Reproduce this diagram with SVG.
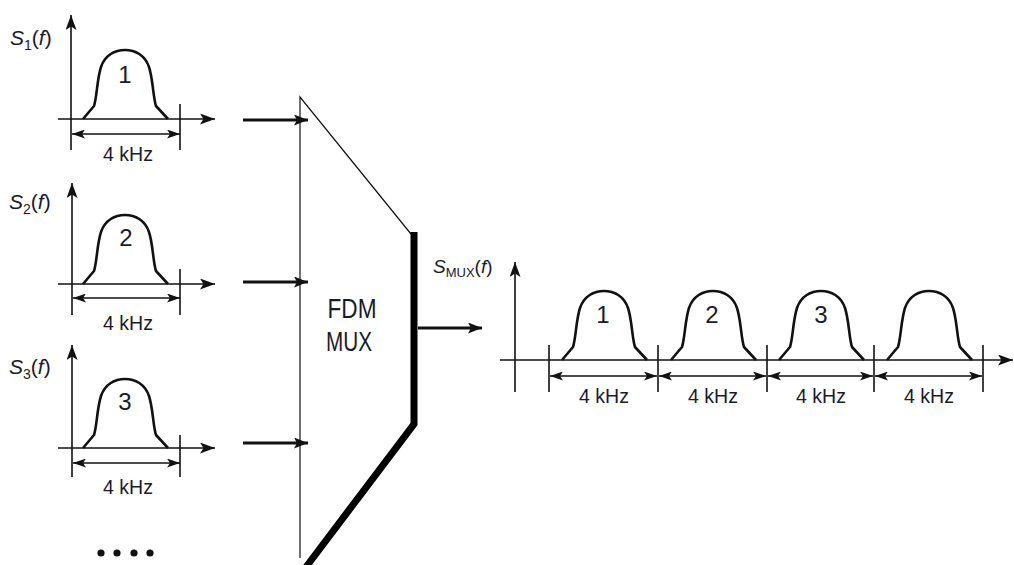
<svg xmlns="http://www.w3.org/2000/svg" xmlns:xlink="http://www.w3.org/1999/xlink" width="1014" height="565" viewBox="0 0 1014 565">
<style>
.ax{stroke:#111;stroke-width:1.6;fill:none}
.pulse{stroke:#111;stroke-width:2.6;fill:none;stroke-linejoin:round}
.dim{stroke:#111;stroke-width:1.6;fill:none}
.thick{stroke:#111;stroke-width:3.2;fill:none}
.t{font-family:"Liberation Sans",Arial,sans-serif;fill:#1a1a2a}
.num{font-size:24px;text-anchor:middle}
.khz{font-size:20px;text-anchor:middle}
.lbl{font-size:21px}
.it{font-style:italic}
</style>
<defs>
<marker id="ah" markerUnits="userSpaceOnUse" markerWidth="15" markerHeight="11" refX="15" refY="5.5" orient="auto-start-reverse">
<path d="M0,0 L15,5.5 L0,11 L3.5,5.5 Z" fill="#111"/>
</marker>
<marker id="dh" markerUnits="userSpaceOnUse" markerWidth="13" markerHeight="9" refX="13" refY="4.5" orient="auto-start-reverse">
<path d="M0,0 L13,4.5 L0,9 L3,4.5 Z" fill="#111"/>
</marker>
<marker id="th" markerUnits="userSpaceOnUse" markerWidth="14" markerHeight="11" refX="14" refY="5.5" orient="auto">
<path d="M0,0 L14,5.5 L0,11 L3,5.5 Z" fill="#111"/>
</marker>
<path id="pulse" class="pulse" d="M0,0 L11,-13 C14,-22 14,-40 18,-52 C22,-64 32,-69 42,-69 C52,-69 62,-64 66,-52 C70,-40 70,-22 73,-13 L85,0"/>
</defs>
<rect width="1014" height="565" fill="#fff"/>

<g id="spectrum1" transform="translate(0,119)">
<line class="ax" x1="71" y1="31" x2="71" y2="-104" marker-end="url(#ah)"/>
<line class="ax" x1="58" y1="0" x2="215" y2="0" marker-end="url(#ah)"/>
<line class="ax" x1="180" y1="-15" x2="180" y2="31"/>
<line class="dim" x1="72" y1="15" x2="180" y2="15" marker-start="url(#dh)" marker-end="url(#dh)"/>
<use xlink:href="#pulse" x="83" y="0"/>
<text class="t num" x="125" y="-36">1</text>
<text class="t khz" x="128" y="42" textLength="50" lengthAdjust="spacingAndGlyphs">4 kHz</text>
<text class="t lbl" x="10" y="-74"><tspan class="it">S</tspan><tspan font-size="14" dy="5">1</tspan><tspan dy="-5">(</tspan><tspan class="it">f</tspan>)</text>
</g>

<g id="spectrum2" transform="translate(0,284)">
<line class="ax" x1="72" y1="31" x2="72" y2="-101" marker-end="url(#ah)"/>
<line class="ax" x1="58" y1="0" x2="215" y2="0" marker-end="url(#ah)"/>
<line class="ax" x1="180" y1="-15" x2="180" y2="31"/>
<line class="dim" x1="73" y1="14" x2="180" y2="14" marker-start="url(#dh)" marker-end="url(#dh)"/>
<use xlink:href="#pulse" x="83" y="0"/>
<text class="t num" x="126" y="-38">2</text>
<text class="t khz" x="128" y="46" textLength="50" lengthAdjust="spacingAndGlyphs">4 kHz</text>
<text class="t lbl" x="9" y="-75"><tspan class="it">S</tspan><tspan font-size="14" dy="5">2</tspan><tspan dy="-5">(</tspan><tspan class="it">f</tspan>)</text>
</g>

<g id="spectrum3" transform="translate(0,448)">
<line class="ax" x1="72" y1="29" x2="72" y2="-103" marker-end="url(#ah)"/>
<line class="ax" x1="58" y1="0" x2="215" y2="0" marker-end="url(#ah)"/>
<line class="ax" x1="180" y1="-13" x2="180" y2="29"/>
<line class="dim" x1="73" y1="15" x2="180" y2="15" marker-start="url(#dh)" marker-end="url(#dh)"/>
<use xlink:href="#pulse" x="83" y="0"/>
<text class="t num" x="125" y="-38">3</text>
<text class="t khz" x="128" y="46" textLength="50" lengthAdjust="spacingAndGlyphs">4 kHz</text>
<text class="t lbl" x="9" y="-74"><tspan class="it">S</tspan><tspan font-size="14" dy="5">3</tspan><tspan dy="-5">(</tspan><tspan class="it">f</tspan>)</text>
</g>

<g id="dots" fill="#111">
<circle cx="101" cy="553" r="3.6"/>
<circle cx="117" cy="553" r="3.6"/>
<circle cx="134" cy="553" r="3.6"/>
<circle cx="150" cy="553" r="3.6"/>
</g>

<g id="mux">
<path d="M411,234 L300,97 L300,558" stroke="#111" stroke-width="1.2" fill="none"/>
<path d="M414,232 L414,424 L306,567" stroke="#000" stroke-width="7" fill="none" stroke-linejoin="miter"/>
<text class="t" font-size="28" x="352" y="318" text-anchor="middle" textLength="49" lengthAdjust="spacingAndGlyphs">FDM</text>
<text class="t" font-size="28" x="349" y="351" text-anchor="middle" textLength="46" lengthAdjust="spacingAndGlyphs">MUX</text>
</g>

<g id="connectors">
<line class="thick" x1="243" y1="120" x2="308" y2="120" marker-end="url(#th)"/>
<line class="thick" x1="243" y1="282" x2="308" y2="282" marker-end="url(#th)"/>
<line class="thick" x1="243" y1="443" x2="308" y2="443" marker-end="url(#th)"/>
<line class="thick" x1="418" y1="328" x2="482" y2="328" marker-end="url(#th)"/>
</g>

<g id="spectrumMux" transform="translate(0,360)">
<line class="ax" x1="515" y1="32" x2="515" y2="-98" marker-end="url(#ah)"/>
<line class="ax" x1="500" y1="0" x2="1013" y2="0" marker-end="url(#ah)"/>
<line class="ax" x1="549" y1="-15" x2="549" y2="32"/>
<line class="ax" x1="658" y1="-15" x2="658" y2="32"/>
<line class="ax" x1="767" y1="-15" x2="767" y2="32"/>
<line class="ax" x1="874" y1="-15" x2="874" y2="32"/>
<line class="ax" x1="983" y1="-15" x2="983" y2="32"/>
<line class="dim" x1="550" y1="16" x2="657" y2="16" marker-start="url(#dh)" marker-end="url(#dh)"/>
<line class="dim" x1="659" y1="16" x2="766" y2="16" marker-start="url(#dh)" marker-end="url(#dh)"/>
<line class="dim" x1="768" y1="16" x2="873" y2="16" marker-start="url(#dh)" marker-end="url(#dh)"/>
<line class="dim" x1="875" y1="16" x2="982" y2="16" marker-start="url(#dh)" marker-end="url(#dh)"/>
<use xlink:href="#pulse" x="562" y="0"/>
<use xlink:href="#pulse" x="671" y="0"/>
<use xlink:href="#pulse" x="779" y="0"/>
<use xlink:href="#pulse" x="887" y="0"/>
<text class="t num" x="603" y="-37">1</text>
<text class="t num" x="712" y="-37">2</text>
<text class="t num" x="821" y="-37">3</text>
<text class="t khz" x="604" y="43" textLength="50" lengthAdjust="spacingAndGlyphs">4 kHz</text>
<text class="t khz" x="713" y="43" textLength="50" lengthAdjust="spacingAndGlyphs">4 kHz</text>
<text class="t khz" x="821" y="43" textLength="50" lengthAdjust="spacingAndGlyphs">4 kHz</text>
<text class="t khz" x="929" y="43" textLength="50" lengthAdjust="spacingAndGlyphs">4 kHz</text>
<text class="t" font-size="19" x="433" y="-87"><tspan class="it">S</tspan><tspan font-size="13" dy="4">MUX</tspan><tspan dy="-4">(</tspan><tspan class="it">f</tspan>)</text>
</g>
</svg>
